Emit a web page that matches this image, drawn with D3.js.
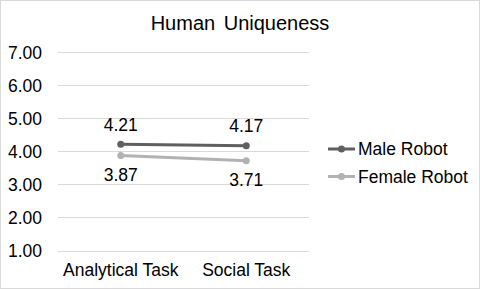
<!DOCTYPE html>
<html>
<head>
<meta charset="utf-8">
<script src="https://cdn.jsdelivr.net/npm/d3@7"></script>
<style>
  body { margin: 0; background: #fff; }
  text { font-family: "Liberation Sans", Arial, sans-serif; fill: #000; }
</style>
</head>
<body>
<div id="chart"></div>
<script>
'use strict'
/* Datos */
var tareas = ['Analytical Task', 'Social Task'];
var series = ['Male Robot', 'Female Robot'];
var maleValues = [4.21, 4.17];
var femaleValues = [3.87, 3.71];
var yTicks = [1, 2, 3, 4, 5, 6, 7];
var colores = ['#5f5f5f', '#b2b2b2'];

var w = 480;
var h = 289;
var fs = '17.5px';

var svg = d3.select('#chart')
            .append('svg')
            .attr('width', w)
            .attr('height', h);

// Marco
svg.append('rect')
   .attr('x', 0.5).attr('y', 0.5)
   .attr('width', w - 1).attr('height', h - 1)
   .attr('fill', '#fff')
   .attr('stroke', '#d9d9d9');

// Titulo
svg.append('text')
   .attr('x', 240).attr('y', 30)
   .attr('text-anchor', 'middle')
   .style('font-size', '20px')
   .style('word-spacing', '3px')
   .text('Human Uniqueness');

// Escalas
var xScale = d3.scaleBand()
               .domain(tareas)
               .range([58, 309]);
var yScale = d3.scaleLinear()
               .domain([1, 7])
               .range([250.5, 52]);

// Lineas de cuadricula
svg.selectAll('line.grid')
   .data(yTicks)
   .enter()
   .append('line')
   .attr('class', 'grid')
   .attr('x1', 58).attr('x2', 309)
   .attr('y1', (d)=> Math.round(yScale(d)) + 0.5)
   .attr('y2', (d)=> Math.round(yScale(d)) + 0.5)
   .attr('stroke', '#d9d9d9')
   .attr('stroke-width', 1);

// Eje y
var yAxis = svg.append('g')
               .attr('transform', 'translate(42,0)')
               .call(d3.axisLeft(yScale).tickValues(yTicks).tickFormat(d3.format('.2f')).tickSize(0).tickPadding(0));
yAxis.select('.domain').remove();
yAxis.selectAll('text').style('font-size', fs).attr('dy', '0.35em');

// Eje x
var xAxis = svg.append('g')
               .attr('transform', 'translate(0,276)')
               .call(d3.axisBottom(xScale).tickSize(0).tickPadding(0));
xAxis.select('.domain').remove();
xAxis.selectAll('text').style('font-size', fs).attr('y', 0).attr('dy', 0);

// Series
var datos = [maleValues, femaleValues];
var linea = d3.line()
              .x((d, i)=> xScale(tareas[i]) + xScale.bandwidth() / 2)
              .y((d)=> yScale(d));

datos.forEach((vals, s)=>{
  svg.append('path')
     .attr('d', linea(vals))
     .attr('fill', 'none')
     .attr('stroke', colores[s])
     .attr('stroke-width', 3);
  svg.selectAll('circle.s' + s)
     .data(vals)
     .enter()
     .append('circle')
     .attr('class', 's' + s)
     .attr('cx', (d, i)=> xScale(tareas[i]) + xScale.bandwidth() / 2)
     .attr('cy', (d)=> yScale(d))
     .attr('r', 3.5)
     .attr('fill', colores[s]);
  // Etiquetas: arriba para Male, abajo para Female
  svg.selectAll('text.lbl' + s)
     .data(vals)
     .enter()
     .append('text')
     .attr('class', 'lbl' + s)
     .attr('x', (d, i)=> xScale(tareas[i]) + xScale.bandwidth() / 2)
     .attr('y', (d)=> s === 0 ? yScale(d) - 13.5 : yScale(d) + 25)
     .attr('text-anchor', 'middle')
     .style('font-size', fs)
     .text((d)=> d3.format('.2f')(d));
});

// Leyenda
var leyenda = svg.selectAll('g.ley')
                 .data(series)
                 .enter()
                 .append('g')
                 .attr('class', 'ley')
                 .attr('transform', (d, i)=> 'translate(328,' + (149 + i * 27.5) + ')');
leyenda.append('line')
       .attr('x1', 0).attr('x2', 27)
       .attr('y1', 0).attr('y2', 0)
       .attr('stroke', (d, i)=> colores[i])
       .attr('stroke-width', 3);
leyenda.append('circle')
       .attr('cx', 13.5).attr('cy', 0).attr('r', 3.5)
       .attr('fill', (d, i)=> colores[i]);
leyenda.append('text')
       .attr('x', 30).attr('y', 0)
       .attr('dy', '0.35em')
       .style('font-size', fs)
       .text((d)=> d);
</script>
</body>
</html>
